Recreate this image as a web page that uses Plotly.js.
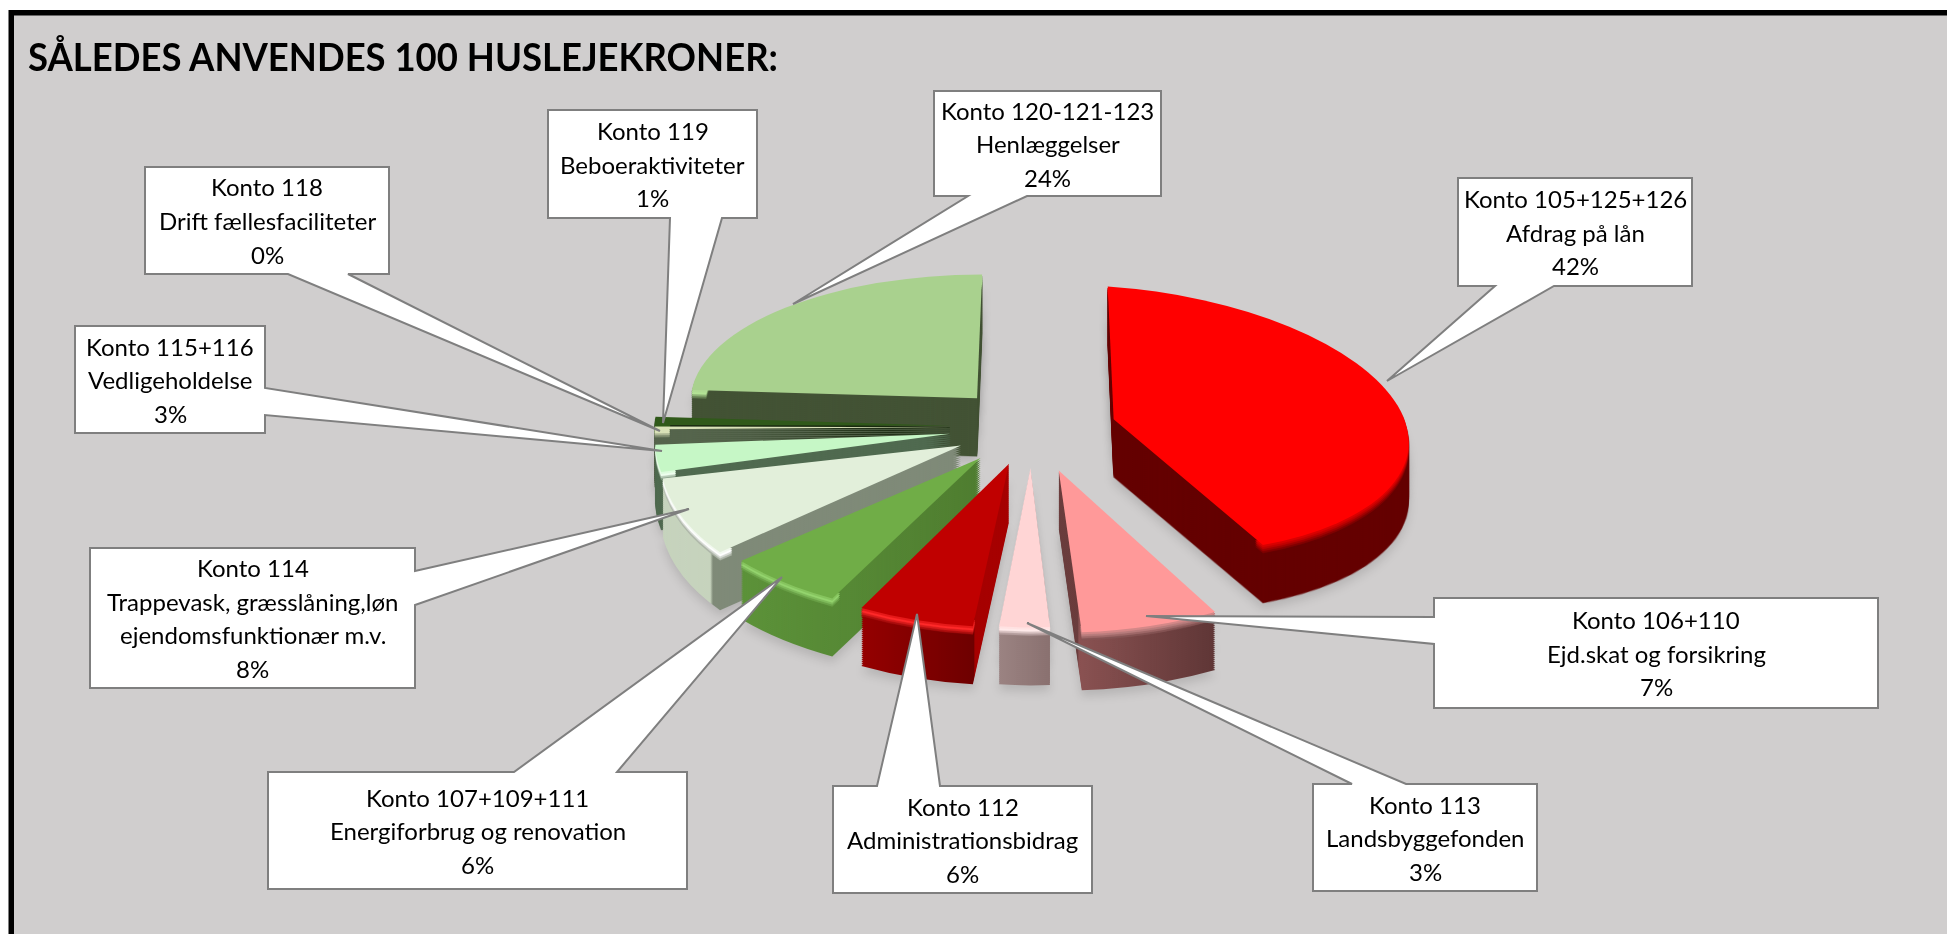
<!DOCTYPE html>
<html><head><meta charset="utf-8">
<script src="https://cdn.plot.ly/plotly-3.0.1.min.js"></script>
<style>html,body{margin:0;padding:0;background:#fff;overflow:hidden}#chart{width:1947px;height:934px}
.main-svg text{font-variant-ligatures:none}</style>
</head><body><div id="chart"></div>
<script>
// ---------- data ----------
const titleText = "SÅLEDES ANVENDES 100 HUSLEJEKRONER:";
const accounts = ["Konto 105+125+126","Konto 106+110","Konto 113","Konto 112","Konto 107+109+111","Konto 114","Konto 115+116","Konto 118","Konto 119","Konto 120-121-123"];
const descriptions = [["Afdrag på lån"],["Ejd.skat og forsikring"],["Landsbyggefonden"],["Administrationsbidrag"],["Energiforbrug og renovation"],["Trappevask, græsslåning,løn","ejendomsfunktionær m.v."],["Vedligeholdelse"],["Drift fællesfaciliteter"],["Beboeraktiviteter"],["Henlæggelser"]];
const percentLabels = ["42%","7%","3%","6%","6%","8%","3%","0%","1%","24%"];
const values = [42,7,3,6,6,8,3,0.3,1,24];
const pulls = [0.284,0.28,0.258,0.235,0.25,0.255,0.272,0.272,0.272,0.25];
// ---------- styles ----------
const topColors  = ["#ff0000","#ff9999","#ffd5d5","#c00000","#70ad47","#e2efda","#c6f7c6","#d9e2b8","#30591a","#a9d18e"];
const rimColors  = ["#c00000","#b87c7c","#ffeaea","#ff2a2a","#94d46e","#ffffff","#eeffee","#d9e2b8","#30591a","#b4e496"];
const sideColors = ["#640000","#6e4242","#937b7a","#860000","#568a35","#8a9583","#506a50","#56654d","#1a2a10","#435335"];
const sideStops = [
  null,
  [[0,"#6b3d3d"],[0.12,"#6b3d3d"],[0.13,"#8a5252"],[1,"#5f3636"]],
  [[0,"#9b8382"],[1,"#8a7170"]],
  [[0,"#950000"],[0.76,"#6e0000"],[0.77,"#a60000"],[1,"#a60000"]],
  [[0,"#5c9239"],[1,"#4f7d30"]],
  [[0,"#c6d3bd"],[0.185,"#c6d3bd"],[0.195,"#7f8a78"],[1,"#7f8a78"]],
  null,null,null,null];
// per-slice projection of the flat pie: [x scale, y scale, y shear, x shear, dx, dy]
const sliceWarp = [[1.0,0.45,0.07,0.02,3,-4],[1.085,0.55,0,0,3,0],[0.92,0.54,0,0,2,0],[1.06,0.555,0,0,1,0],[1.065,0.54,0,0,0,0],[1.02,0.56,0,-0.06,2,0],[1.0,0.5,-0.03,0,0,0],[1.0,0.47,0,0,0,0],[1.0,0.45,0,0,0,0],[0.97,0.42,0,-0.017,-5,-6]];
const pieCenter = [1030,427], pieRadius = 295, depth = 58, depthStep = 2;
const shadowOffsets = [18,38,64];
// bevel under the arc of each top face: y offset and blend steps
const rimHole = 0.95;
const rimSteps = [[8,"side",0.7],[6,"side",0.35],[4,"rim",1],[2,"top",0.4]];
// callouts: box l,t,r,b, side the tail leaves from, tail base a,b, tail tip x,y
const callouts = [
 [1458,178,1692,286,"b",1495,1554,1387,381],
 [1434,598,1878,708,"l",617,644,1146,616],
 [1313,784,1537,891,"t",1352,1406,1027,623],
 [833,786,1092,893,"t",877,940,917,614],
 [268,772,687,889,"t",514,617,782,577],
 [90,548,415,688,"r",571,605,689,509],
 [75,326,265,433,"r",388,415,662,451],
 [145,167,389,274,"b",288,348,660,431],
 [548,110,757,218,"b",670,722,663,423],
 [934,91,1161,196,"b",968,1027,793,304]];
const lineGap = 33.5, W = 1947, H = 934;
const FONT = "Lato, sans-serif", labelSize = 24, titleSize = 38, titleWidth = 750;

function hex(c){return [1,3,5].map(i=>parseInt(c.substr(i,2),16));}
function mix(a,b,t){const x=hex(a),y=hex(b);return "rgb("+x.map((v,i)=>Math.round(v+(y[i]-v)*t)).join(",")+")";}
const px=x=>x/W, py=y=>1-y/H;

const pieBase = {type:"pie",values:values,labels:accounts,sort:false,direction:"clockwise",rotation:0,pull:pulls,
  textinfo:"none",hoverinfo:"skip",showlegend:false,domain:{x:[0,1],y:[0,1]}};
const traces=[], roles=[];
shadowOffsets.forEach(o=>{traces.push(Object.assign({},pieBase,{marker:{colors:values.map(()=> "rgba(0,0,0,0.12)"),line:{width:0}}}));roles.push({off:o,blur:true});});
const layerCount=Math.round(depth/depthStep);
for(let k=layerCount;k>=1;k--){
  traces.push(Object.assign({},pieBase,{marker:{colors:sideColors,line:{width:0.6,color:sideColors}}}));
  roles.push({off:k*depthStep,side:true});
}
rimSteps.forEach(st=>{
  const cols=topColors.map((c,i)=> st[1]==="side"?mix(rimColors[i],sideColors[i],st[2]): st[1]==="top"?mix(rimColors[i],c,st[2]):rimColors[i]);
  traces.push(Object.assign({},pieBase,{hole:rimHole,marker:{colors:cols,line:{width:0.6,color:cols}}}));
  roles.push({off:st[0]});
});
traces.push(Object.assign({},pieBase,{marker:{colors:topColors,line:{width:0}}}));
roles.push({off:0});
function calloutPath(c){
  const [l,t,r,b,s,a,e,tx,ty]=c;
  const P=(x,y)=>px(x)+","+py(y);
  let d="M"+P(l,t);
  if(s==="t") d+=" L"+P(a,t)+" L"+P(tx,ty)+" L"+P(e,t);
  d+=" L"+P(r,t);
  if(s==="r") d+=" L"+P(r,a)+" L"+P(tx,ty)+" L"+P(r,e);
  d+=" L"+P(r,b);
  if(s==="b") d+=" L"+P(e,b)+" L"+P(tx,ty)+" L"+P(a,b);
  d+=" L"+P(l,b);
  if(s==="l") d+=" L"+P(l,e)+" L"+P(tx,ty)+" L"+P(l,a);
  return d+" Z";
}
const shapes=[
 {type:"rect",xref:"paper",yref:"paper",x0:px(8.5),x1:1,y0:0,y1:py(10),fillcolor:"#000",line:{width:0},layer:"below"},
 {type:"rect",xref:"paper",yref:"paper",x0:px(14),x1:1,y0:0,y1:py(15.5),fillcolor:"#d0cece",line:{width:0},layer:"below"}
];
const annotations=[];
callouts.forEach((c,i)=>{
  shapes.push({type:"path",xref:"paper",yref:"paper",path:calloutPath(c),fillcolor:"#fff",line:{color:"#7f7f7f",width:2},layer:"above"});
  const lines=[accounts[i]].concat(descriptions[i],[percentLabels[i]]);
  const cx=(c[0]+c[2])/2, cy=(c[1]+c[3])/2;
  lines.forEach((t,j)=>annotations.push({xref:"paper",yref:"paper",x:px(cx),y:py(cy+(j-(lines.length-1)/2)*lineGap),text:t,showarrow:false,xanchor:"center",yanchor:"middle",font:{family:FONT,size:labelSize,color:"#000"}}));
});
const layout={width:W,height:H,margin:{l:0,r:0,t:0,b:0},paper_bgcolor:"#fff",plot_bgcolor:"rgba(0,0,0,0)",
  title:{text:titleText,x:28/W,xanchor:"left",y:py(58),yanchor:"middle",font:{family:FONT,size:titleSize,color:"#000",weight:700}},
  shapes:shapes,annotations:annotations,showlegend:false};

Plotly.newPlot("chart",traces,layout,{displayModeBar:false,staticPlot:true}).then(gd=>{
  const cd=gd.calcdata[0][0], scale=pieRadius/cd.r;
  const svg=gd.querySelector(".main-svg");
  const defs=svg.querySelector("defs");
  const NS="http://www.w3.org/2000/svg";
  sideStops.forEach((st,i)=>{
    if(!st) return;
    const g=document.createElementNS(NS,"linearGradient");
    g.setAttribute("id","side"+i);
    st.forEach(s=>{const e=document.createElementNS(NS,"stop");e.setAttribute("offset",s[0]);e.setAttribute("stop-color",s[1]);g.appendChild(e);});
    defs.appendChild(g);
  });
  gd.querySelectorAll(".pielayer .trace").forEach((tr,n)=>{
    const role=roles[n];
    if(role.blur) tr.style.filter="blur(5px)";
    tr.querySelectorAll(".slice").forEach(sl=>{
      const i=sl.__data__.i, w=sliceWarp[i];
      const a=w[0]*scale, d=w[1]*scale, b=w[2]*scale, c=w[3]*scale;
      const e=pieCenter[0]+w[4]-(a*cd.cx+c*cd.cy), f=pieCenter[1]+w[5]+role.off-(b*cd.cx+d*cd.cy);
      sl.setAttribute("transform","matrix("+[a,b,c,d,e,f].join(",")+")");
      if(role.side && sideStops[i]){
        const p=sl.querySelector("path.surface"); p.style.fill="url(#side"+i+")"; p.style.stroke="none";
      }
    });
  });
  const t=gd.querySelector(".gtitle");
  if(t){t.setAttribute("textLength",titleWidth);t.setAttribute("lengthAdjust","spacingAndGlyphs");}
});
</script></body></html>
